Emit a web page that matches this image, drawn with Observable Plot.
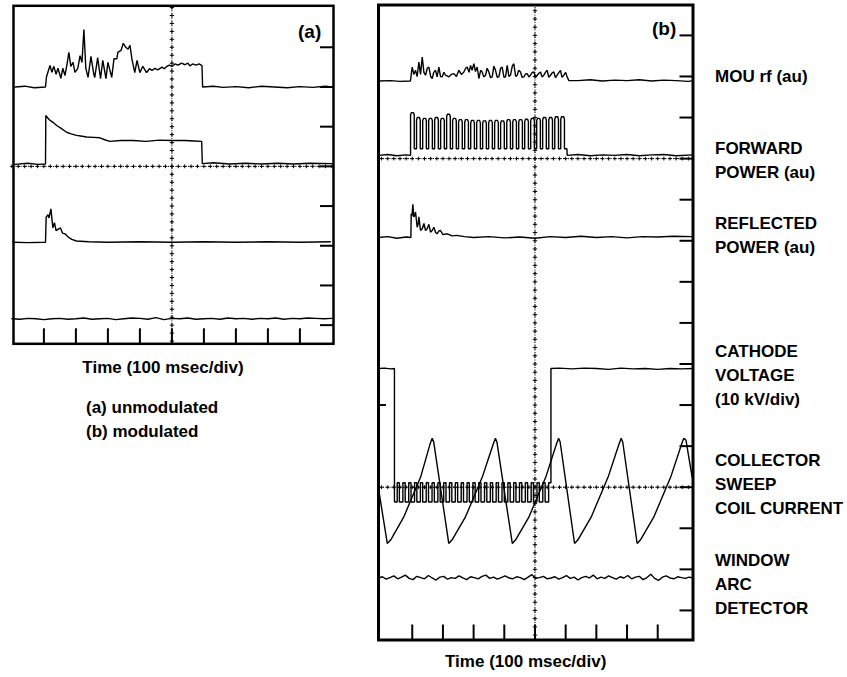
<!DOCTYPE html>
<html><head><meta charset="utf-8">
<script src="https://cdn.jsdelivr.net/npm/d3@7"></script>
<script src="https://cdn.jsdelivr.net/npm/@observablehq/plot@0.6"></script>
<style>
body{margin:0;background:#fff;}
#wrap{position:relative;width:847px;height:677px;overflow:hidden;font-family:"Liberation Sans",Arial,Helvetica,sans-serif;font-weight:bold;color:#000;}
#wrap svg{position:absolute;top:0;background:transparent;}
.lbl{position:absolute;font-size:17px;line-height:24px;white-space:nowrap;}
.big{font-size:19px;}
</style></head><body><div id="wrap"></div>
<script>
// ---------- shared scope grid (time in divisions, 100 ms/div) ----------
const xTicks = [1, 2, 3, 4, 5, 6, 7, 8, 9];
const centerTime = 5;

// ---------- panel (a): unmodulated ----------
const yTicksA = [0, 1, 2, 3, 4, 5, 6, 7];
const hLinesA = [4];
const mouA = [[0.1,6.0],[0.4,6.02],[0.7,5.98],[1.05,6.0],[1.08,6.25],[1.19,6.54],[1.25,6.37],[1.31,6.52],[1.38,6.32],[1.44,6.47],[1.53,6.22],[1.59,6.47],[1.66,6.29],[1.72,6.56],[1.78,6.87],[1.84,6.52],[1.91,6.62],[1.97,6.37],[2.06,6.47],[2.13,6.79],[2.19,6.62],[2.25,7.45],[2.31,6.47],[2.38,6.24],[2.47,6.77],[2.56,6.32],[2.59,6.24],[2.68,6.74],[2.77,6.21],[2.84,6.67],[2.94,6.21],[3.0,6.62],[3.12,6.24],[3.19,6.71],[3.28,6.71],[3.31,6.87],[3.41,6.92],[3.48,7.10],[3.56,7.0],[3.63,6.95],[3.69,7.05],[3.75,6.71],[3.84,6.36],[3.91,6.67],[4.0,6.36],[4.09,6.52],[4.21,6.36],[4.3,6.46],[4.38,6.42],[4.47,6.47],[4.56,6.43],[4.69,6.5],[4.76,6.46],[4.83,6.51],[4.92,6.55],[5.0,6.52],[5.1,6.58],[5.19,6.55],[5.3,6.6],[5.41,6.56],[5.5,6.6],[5.56,6.53],[5.65,6.58],[5.75,6.55],[5.85,6.58],[5.94,6.54],[5.96,6.0],[6.3,6.02],[6.6,5.99],[7.0,6.01],[7.4,5.98],[7.8,6.02],[8.2,6.0],[8.6,5.98],[9.0,6.01],[9.4,5.99],[9.8,6.02],[10.0,6.0]];
const fwdA = [[0.1,4.05],[0.5,4.08],[0.8,4.05],[1.05,4.06],[1.06,5.28],[1.12,5.22],[1.19,5.16],[1.3,5.1],[1.4,5.03],[1.55,4.95],[1.71,4.86],[1.85,4.82],[2.02,4.78],[2.2,4.76],[2.33,4.74],[2.55,4.73],[2.75,4.72],[2.9,4.67],[3.06,4.63],[3.4,4.65],[3.78,4.65],[4.2,4.63],[4.6,4.66],[4.99,4.65],[5.4,4.65],[5.7,4.64],[5.93,4.63],[5.95,4.07],[6.3,4.09],[6.8,4.06],[7.3,4.08],[7.8,4.06],[8.3,4.08],[8.8,4.06],[9.3,4.08],[10.0,4.07]];
const reflA = [[0.04,2.09],[0.5,2.08],[1.05,2.09],[1.07,2.72],[1.13,2.78],[1.16,2.7],[1.22,2.93],[1.28,2.45],[1.33,2.58],[1.38,2.38],[1.45,2.42],[1.52,2.45],[1.58,2.32],[1.66,2.3],[1.76,2.22],[1.87,2.16],[2.02,2.12],[2.4,2.1],[3,2.09],[4,2.1],[5,2.09],[6,2.1],[7,2.09],[8,2.1],[9,2.09],[9.95,2.1]];
const arcAValues = [0.16,0.15,0.17,0.16,0.14,0.16,0.17,0.15,0.16,0.18,0.15,0.16,0.17,0.14,0.16,0.18,0.17,0.15,0.19,0.14,0.17,0.16,0.18,0.15,0.16,0.17,0.15,0.18,0.16,0.17,0.15,0.17,0.16,0.18,0.15,0.17,0.16,0.18,0.17,0.16,0.17];
const arcAStep = 0.25;

// ---------- panel (b): modulated ----------
const yTicksB = [0,1,2,3,4,5,6,7,8,9,10,11,12,13,14];
const leftTicksB = [5];
const hLinesB = [11, 3];
const mouB = [[-0.1,12.89],[0.3,12.9],[0.6,12.88],[0.94,12.89],[0.999,13.23],[1.05,13.05],[1.107,13.15],[1.16,13.0],[1.216,13.35],[1.27,13.05],[1.325,13.47],[1.38,13.1],[1.433,13.03],[1.49,13.2],[1.542,13.23],[1.6,13.0],[1.651,12.95],[1.7,13.1],[1.759,13.15],[1.81,12.99],[1.868,13.23],[1.92,13.0],[1.976,12.99],[2.03,13.1],[2.085,13.03],[2.194,12.99],[2.27,13.05],[2.357,13.07],[2.44,13.0],[2.52,13.15],[2.6,13.05],[2.682,13.11],[2.74,13.2],[2.791,13.23],[2.85,13.1],[2.9,13.27],[2.95,13.15],[3.008,13.31],[3.06,13.12],[3.117,13.23],[3.171,12.95],[3.23,13.15],[3.28,13.11],[3.33,12.99],[3.388,13.03],[3.44,13.2],[3.497,13.11],[3.55,12.97],[3.605,12.99],[3.66,13.25],[3.714,13.15],[3.77,12.98],[3.822,12.99],[3.88,13.2],[3.931,13.23],[3.99,12.98],[4.04,12.99],[4.094,13.27],[4.15,13.0],[4.203,13.03],[4.26,13.25],[4.311,13.31],[4.37,13.0],[4.42,13.03],[4.47,13.15],[4.528,13.11],[4.58,12.98],[4.637,12.99],[4.69,13.06],[4.746,13.07],[4.8,12.99],[4.854,13.03],[4.91,13.1],[4.963,13.11],[5.02,12.98],[5.071,13.03],[5.13,13.08],[5.18,13.11],[5.23,12.99],[5.288,13.03],[5.34,13.1],[5.397,13.15],[5.45,12.98],[5.505,13.03],[5.56,13.09],[5.614,13.11],[5.67,12.97],[5.722,13.03],[5.78,13.1],[5.831,13.15],[5.88,12.98],[5.94,13.03],[6.0,13.1],[6.048,12.99],[6.102,12.9],[6.4,12.9],[6.8,12.92],[7.2,12.89],[7.6,12.91],[8.0,12.9],[8.4,12.92],[8.8,12.89],[9.2,12.91],[9.6,12.9],[10.0,12.88],[10.15,12.9]];
const fwdBaseB = 11.08, fwdLowB = 11.24;
const fwdStartsB = [0.945,1.14,1.34,1.535,1.73,1.925,2.12,2.315,2.51,2.71,2.905,3.10,3.295,3.49,3.685,3.88,4.08,4.275,4.47,4.665,4.86,5.055,5.25,5.45,5.645,5.84];
const fwdHighsB = [12.12,12.0,11.98,11.98,12.0,11.98,12.08,11.98,11.95,11.95,11.93,11.93,11.92,11.93,11.93,11.92,11.95,11.95,11.95,11.96,11.98,11.98,12.0,12.0,12.02,12.02];
const fwdEndB = 6.05;
const fwdLeftB = [[-0.1,11.08],[0.2,11.1],[0.5,11.07],[0.8,11.09]];
const fwdRightB = [[6.4,11.1],[6.8,11.07],[7.2,11.09],[7.6,11.08],[8.0,11.1],[8.4,11.07],[8.8,11.09],[9.2,11.1],[9.6,11.07],[10.15,11.09]];
const reflB = [[-0.1,9.08],[0.2,9.1],[0.5,9.06],[0.8,9.09],[0.955,9.08],[0.966,9.66],[0.99,9.6],[1.02,9.89],[1.05,9.58],[1.08,9.62],[1.107,9.7],[1.16,9.33],[1.19,9.4],[1.216,9.58],[1.27,9.25],[1.33,9.3],[1.38,9.42],[1.433,9.25],[1.49,9.3],[1.542,9.4],[1.596,9.21],[1.65,9.25],[1.705,9.33],[1.76,9.2],[1.81,9.17],[1.87,9.24],[1.92,9.25],[2.0,9.15],[2.14,9.17],[2.3,9.12],[2.46,9.13],[2.7,9.1],[3.0,9.08],[3.5,9.1],[4.0,9.07],[4.5,9.09],[5.0,9.06],[5.5,9.1],[6.0,9.08],[6.5,9.11],[7.0,9.08],[7.5,9.1],[8.0,9.07],[8.5,9.1],[9.0,9.09],[9.5,9.11],[10.15,9.1]];
const cathHighB = 5.89, cathUpperB = 3.11, cathLowB = 2.64;
const cathDropB = 0.42, cathModStartB = 0.51, cathRiseB = 5.52;
const cathDipsB = [0.58,0.77,0.96,1.15,1.34,1.53,1.72,1.91,2.10,2.29,2.48,2.67,2.86,3.05,3.24,3.43,3.62,3.81,4.00,4.19,4.38,4.57,4.76,4.95,5.14,5.33];
const cathDipLen = 0.115;
const cathLeftB = [[-0.1,5.89],[0.1,5.9],[0.3,5.88]];
const cathRightB = [[5.8,5.9],[6.2,5.88],[6.6,5.9],[7.0,5.89],[7.4,5.87],[7.8,5.9],[8.2,5.88],[8.6,5.89],[9.0,5.87],[9.4,5.89],[9.8,5.88],[10.15,5.89]];
const sawB = [[-0.1,2.97],[0.186,1.63],[0.3,1.72],[0.72,2.27],[1.27,3.24],[1.58,4.05],[1.65,4.19],[1.7,4.1],[2.19,1.63],[2.3,1.72],[2.73,2.27],[3.28,3.24],[3.64,4.05],[3.71,4.19],[3.76,4.1],[4.26,1.63],[4.37,1.72],[4.8,2.27],[5.35,3.24],[5.7,4.05],[5.77,4.19],[5.82,4.1],[6.29,1.63],[6.4,1.72],[6.83,2.27],[7.38,3.24],[7.74,4.05],[7.81,4.19],[7.86,4.1],[8.33,1.63],[8.44,1.72],[8.87,2.27],[9.42,3.24],[9.78,4.05],[9.85,4.19],[9.92,4.15],[10.12,3.25]];
const arcBValues = [0.79,0.82,0.76,0.80,0.84,0.77,0.81,0.86,0.78,0.75,0.83,0.80,0.77,0.85,0.79,0.74,0.81,0.83,0.76,0.80,
0.78,0.84,0.79,0.75,0.82,0.80,0.77,0.83,0.86,0.78,0.81,0.76,0.80,0.84,0.79,0.77,0.82,0.80,0.75,0.81,
0.87,0.78,0.80,0.83,0.77,0.79,0.82,0.76,0.80,0.85,0.78,0.81,0.74,0.80,0.83,0.79,0.86,0.77,0.81,0.78,
0.84,0.80,0.76,0.82,0.79,0.85,0.77,0.81,0.83,0.75,0.80,0.88,0.78,0.73,0.81,0.84,0.79,0.77,0.82,0.80,
0.78,0.81,0.79];
const arcBStart = -0.1, arcBStep = 0.125;

// ---------- build trace tables ----------
const arcA = arcAValues.map((v, i) => [i * arcAStep, v]);
const arcB = arcBValues.map((v, i) => [arcBStart + i * arcBStep, v]);

const fwdB = [...fwdLeftB];
fwdStartsB.forEach((s, i) => {
  const h = fwdHighsB[i];
  fwdB.push([s, i === 0 ? fwdBaseB : fwdLowB], [s, h - 0.06], [s + 0.025, h], [s + 0.095, h], [s + 0.12, h - 0.06], [s + 0.12, fwdLowB]);
});
fwdB.push([fwdEndB - 0.01, fwdLowB], [fwdEndB, fwdBaseB], ...fwdRightB);

const cathB = [...cathLeftB, [cathDropB, cathHighB], [cathDropB, cathLowB], [cathModStartB, cathLowB], [cathModStartB, cathUpperB]];
cathDipsB.forEach(d => cathB.push([d, cathUpperB], [d, cathLowB], [d + cathDipLen, cathLowB], [d + cathDipLen, cathUpperB]));
cathB.push([cathRiseB, cathUpperB], [cathRiseB, cathHighB], ...cathRightB);

// ---------- scope panel builder ----------
function scopePanel({width, height, mL, mR, mT, mB, xDomain, yDomain, yTicks, leftTicks, hLines, frameWidth, traces}) {
  const pw = width - mL - mR, ph = height - mT - mB;
  const crossV = d3.range(Math.ceil(yDomain[0] / 0.2) * 0.2, yDomain[1], 0.2);
  const crossH = d3.range(0, 10.001, 0.2);
  return Plot.plot({
    width, height, marginLeft: mL, marginRight: mR, marginTop: mT, marginBottom: mB,
    x: {domain: xDomain, axis: null},
    y: {domain: yDomain, axis: null},
    marks: [
      Plot.ruleX([centerTime], {stroke: "#000", strokeWidth: 1, strokeDasharray: "1,1.5"}),
      Plot.dot(crossV, {x: centerTime, y: d => d, symbol: "plus", r: 1.5, stroke: "#000", strokeWidth: 1}),
      Plot.ruleY(hLines, {y: d => d, stroke: "#000", strokeWidth: 1, strokeDasharray: "1,1.5"}),
      ...hLines.map(h => Plot.dot(crossH, {x: d => d, y: h, symbol: "plus", r: 1.3, stroke: "#000", strokeWidth: 1})),
      Plot.tickY(yTicks, {y: d => d, insetLeft: pw - 13, stroke: "#000", strokeWidth: 2}),
      Plot.tickY(leftTicks, {y: d => d, insetRight: pw - 8, stroke: "#000", strokeWidth: 2}),
      Plot.tickX(xTicks, {x: d => d, insetTop: ph - 15, stroke: "#000", strokeWidth: 2}),
      ...traces.map(tr => Plot.line(tr, {x: d => d[0], y: d => d[1], stroke: "#000", strokeWidth: 1.4, strokeLinejoin: "miter"})),
      Plot.frame({stroke: "#000", strokeWidth: frameWidth})
    ]
  });
}

const wrap = document.getElementById("wrap");
const svgA = scopePanel({width: 345, height: 350, mL: 13, mR: 12, mT: 5.3, mB: 6.7,
  xDomain: [0.05, 10.05], yDomain: [-0.47, 8.045], yTicks: yTicksA, leftTicks: [], hLines: hLinesA,
  frameWidth: 2.5, traces: [mouA, fwdA, reflA, arcA]});
svgA.style.left = "0px";
wrap.appendChild(svgA);

const svgB = scopePanel({width: 330, height: 650, mL: 8, mR: 7.5, mT: 4.5, mB: 10.5,
  xDomain: [-0.1, 10.15], yDomain: [-0.72, 14.74], yTicks: yTicksB, leftTicks: leftTicksB, hLines: hLinesB,
  frameWidth: 3, traces: [mouB, fwdB, reflB, cathB, sawB, arcB]});
svgB.style.left = "370px";
wrap.appendChild(svgB);

// ---------- text ----------
const labels = [
  {text: "(a)", x: 298, y: 20, cls: "big"},
  {text: "(b)", x: 652, y: 16.7, cls: "big"},
  {text: "MOU rf (au)", x: 715, y: 65.2},
  {text: "FORWARD<br>POWER (au)", x: 715, y: 137.2},
  {text: "REFLECTED<br>POWER (au)", x: 715, y: 211.7},
  {text: "CATHODE<br>VOLTAGE<br>(10 kV/div)", x: 715, y: 340.2},
  {text: "COLLECTOR<br>SWEEP<br>COIL CURRENT", x: 715, y: 449.2},
  {text: "WINDOW<br>ARC<br>DETECTOR", x: 715, y: 548.7},
  {text: "(a) unmodulated", x: 86, y: 396.4},
  {text: "(b) modulated", x: 86, y: 419.7}
];
labels.forEach(l => {
  const d = document.createElement("div");
  d.className = "lbl " + (l.cls || "");
  d.style.left = l.x + "px"; d.style.top = l.y + "px";
  d.innerHTML = l.text;
  wrap.appendChild(d);
});
const centered = [
  {text: "Time (100 msec/div)", cx: 163, y: 356.2},
  {text: "Time (100 msec/div)", cx: 525.7, y: 649.9}
];
centered.forEach(l => {
  const d = document.createElement("div");
  d.className = "lbl";
  d.style.left = (l.cx - 120) + "px"; d.style.top = l.y + "px";
  d.style.width = "240px"; d.style.textAlign = "center";
  d.textContent = l.text;
  wrap.appendChild(d);
});
</script></body></html>
